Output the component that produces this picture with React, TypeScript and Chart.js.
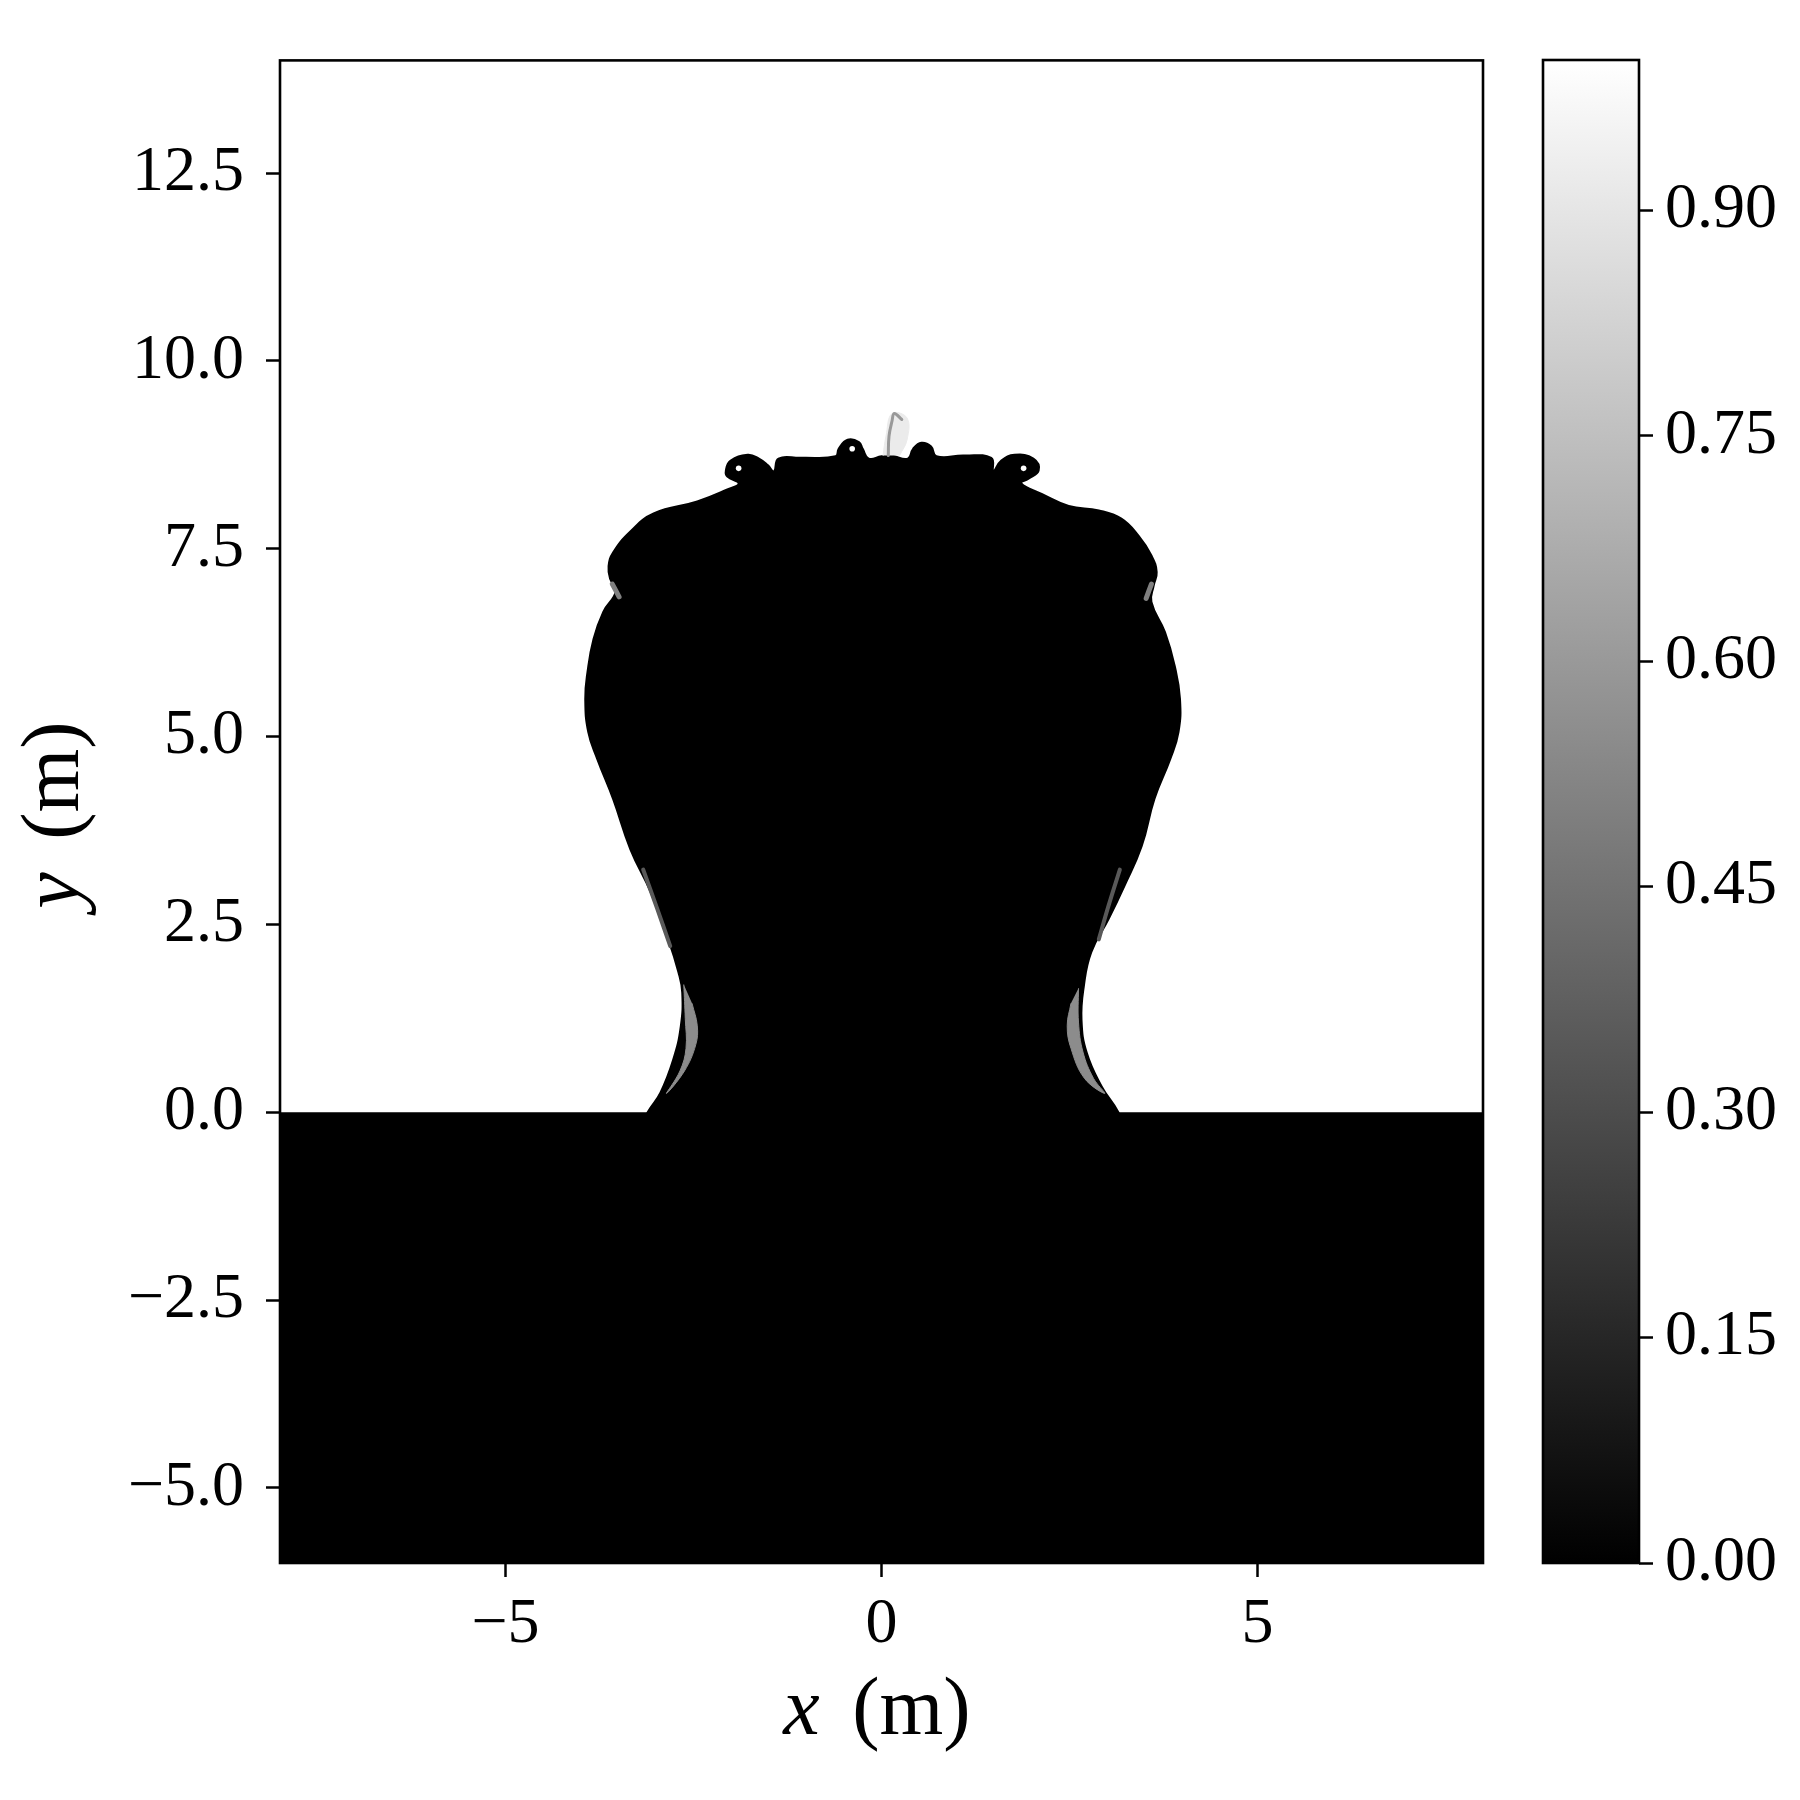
import React, { useEffect, useRef } from "react";
import { Chart, registerables } from "chart.js";

Chart.register(...registerables);

// ---- axes ----
const xLimits = [-8, 8];
const yLimits = [-6, 14];
const xTickValues = [-5, 0, 5];
const yTickValues = [-5, -2.5, 0, 2.5, 5, 7.5, 10, 12.5];
const cbarLimits = [0, 1];
const cbarTickValues = [0, 0.15, 0.3, 0.45, 0.6, 0.75, 0.9];

// ---- liquid pool (volume fraction 0) below the free surface ----
const poolX = [-8, -8, 8, 8];
const poolY = [0, -6, -6, 0];

// ---- bubble / column interface: right foot -> up -> crest -> down -> left foot, closed below y=0 ----
const bubbleX = [
  3.3, 3.15, 2.93, 2.73, 2.66, 2.69, 2.79, 3.02, 3.23, 3.46, 3.63, 3.84, 3.95, 3.97, 3.90,
  3.77, 3.59, 3.62, 3.66, 3.59, 3.42, 3.19, 2.89, 2.49, 2.13, 1.86,
  1.95, 2.09, 2.02, 1.77, 1.59, 1.49, 1.46,
  1.10, 0.73, 0.66, 0.53, 0.42, 0.35, 0.13, 0.0, -0.17,
  -0.25, -0.30, -0.45, -0.57, -0.61, -1.07, -1.37, -1.43,
  -1.51, -1.63, -1.78, -2.01, -2.07, -2.05, -1.90, -2.05,
  -2.45, -3.03, -3.34, -3.57, -3.63, -3.61, -3.53, -3.70, -3.83, -3.91, -3.94, -3.90,
  -3.78, -3.57, -3.34, -3.07, -2.85, -2.70, -2.65, -2.67, -2.77, -2.94, -3.11, -3.3,
];
const bubbleY = [
  -0.4, 0.0, 0.34, 0.79, 1.23, 1.67, 2.13, 2.57, 3.01, 3.54, 4.17, 4.70, 5.06, 5.50, 5.94,
  6.39, 6.79, 7.01, 7.19, 7.41, 7.67, 7.90, 8.01, 8.07, 8.23, 8.37,
  8.43, 8.54, 8.70, 8.75, 8.67, 8.54, 8.71,
  8.74, 8.73, 8.86, 8.91, 8.83, 8.70, 8.74, 8.73, 8.70,
  8.83, 8.92, 8.95, 8.83, 8.73, 8.71, 8.70, 8.53,
  8.61, 8.70, 8.75, 8.67, 8.54, 8.46, 8.37, 8.29,
  8.13, 7.97, 7.73, 7.45, 7.27, 7.10, 6.94, 6.66, 6.30, 5.86, 5.50, 5.06,
  4.70, 4.17, 3.50, 2.93, 2.34, 1.86, 1.59, 1.14, 0.70, 0.26, 0.0, -0.4,
];

// ---- partially mixed regions (volume fraction levels) ----
const leftCrescentX = [-2.63, -2.61, -2.60, -2.68, -2.86, -2.62, -2.47, -2.45, -2.52];
const leftCrescentY = [1.70, 1.25, 0.85, 0.55, 0.25, 0.55, 0.90, 1.15, 1.45];
const rightCrescentX = [2.62, 2.62, 2.68, 2.82, 2.97, 2.70, 2.52, 2.47, 2.52];
const rightCrescentY = [1.65, 1.20, 0.80, 0.45, 0.25, 0.45, 0.85, 1.15, 1.45];
const crescentLevel = 0.55;

const leftStreakX = [-3.17, -2.98, -2.81];
const leftStreakY = [3.23, 2.70, 2.21];
const rightStreakX = [3.17, 3.02, 2.89];
const rightStreakY = [3.23, 2.75, 2.30];
const streakLevel = 0.35;

const leftShoulderX = [-3.58, -3.49];
const leftShoulderY = [7.03, 6.86];
const rightShoulderX = [3.59, 3.52];
const rightShoulderY = [7.03, 6.84];
const shoulderLevel = 0.5;

const hazeX = [0.02, 0.06, 0.14, 0.34, 0.34, 0.24];
const hazeY = [8.74, 9.0, 9.3, 9.24, 8.95, 8.74];
const hazeLevel = 0.92;

const wispX = [0.09, 0.1, 0.14, 0.17, 0.27];
const wispY = [8.74, 9.0, 9.2, 9.3, 9.22];
const wispLevel = 0.6;

const curlEyeX = [-1.9, 1.89, -0.39];
const curlEyeY = [8.57, 8.57, 8.83];
const curlEyeLevel = 1.0;

// ---- helpers ----
const FONT = "'Liberation Serif', 'Times New Roman', serif";
const pts = (xs: number[], ys: number[]) => xs.map((x, i) => ({ x, y: ys[i] }));
const gray = (v: number) => {
  const c = Math.round(v * 255);
  return `rgb(${c},${c},${c})`;
};
const minus = (s: string) => s.replace("-", "\u2212");

const framePlugin = {
  id: "frame",
  afterDraw(chart: any) {
    const { ctx, chartArea: a } = chart;
    ctx.save();
    ctx.strokeStyle = "#000";
    ctx.lineWidth = 2.6;
    ctx.strokeRect(a.left, a.top, a.right - a.left, a.bottom - a.top);
    ctx.restore();
  },
};

const tickGrid = {
  display: true,
  drawOnChartArea: false,
  drawTicks: true,
  tickLength: 14,
  tickWidth: 2.5,
  tickColor: "#000",
};

function polyDataset(label: string, xs: number[], ys: number[], level: number, order: number, tension: number) {
  return {
    label,
    data: pts(xs, ys),
    showLine: true,
    fill: "shape",
    backgroundColor: gray(level),
    borderColor: gray(level),
    borderWidth: 1,
    pointRadius: 0,
    tension,
    order,
  };
}

function lineDataset(label: string, xs: number[], ys: number[], level: number, width: number, order: number) {
  return {
    label,
    data: pts(xs, ys),
    showLine: true,
    fill: false,
    borderColor: gray(level),
    borderWidth: width,
    pointRadius: 0,
    tension: 0.4,
    borderCapStyle: "round",
    order,
  };
}

export default function App() {
  const mainRef = useRef<HTMLCanvasElement | null>(null);
  const cbarRef = useRef<HTMLCanvasElement | null>(null);

  useEffect(() => {
    const main = new Chart(mainRef.current as HTMLCanvasElement, {
      type: "scatter",
      data: {
        datasets: [
          {
            label: "curl eyes",
            data: pts(curlEyeX, curlEyeY),
            pointRadius: 2.8,
            pointBackgroundColor: gray(curlEyeLevel),
            pointBorderWidth: 0,
            showLine: false,
            order: 0,
          },
          lineDataset("wisp", wispX, wispY, wispLevel, 3, 1),
          polyDataset("haze", hazeX, hazeY, hazeLevel, 2, 0.4),
          lineDataset("left streak", leftStreakX, leftStreakY, streakLevel, 4, 1),
          lineDataset("right streak", rightStreakX, rightStreakY, streakLevel, 4, 1),
          lineDataset("left shoulder", leftShoulderX, leftShoulderY, shoulderLevel, 5, 1),
          lineDataset("right shoulder", rightShoulderX, rightShoulderY, shoulderLevel, 5, 1),
          polyDataset("left crescent", leftCrescentX, leftCrescentY, crescentLevel, 3, 0.4),
          polyDataset("right crescent", rightCrescentX, rightCrescentY, crescentLevel, 3, 0.4),
          { ...polyDataset("bubble", bubbleX, bubbleY, 0, 9, 0.45), borderWidth: 2 },
          { ...polyDataset("pool", poolX, poolY, 0, 10, 0), borderWidth: 1 },
        ] as any,
      },
      options: {
        animation: false,
        responsive: false,
        devicePixelRatio: 1,
        events: [],
        layout: { padding: { top: 60, right: 17, left: 0, bottom: 0 } },
        plugins: { legend: { display: false }, tooltip: { enabled: false } },
        scales: {
          x: {
            type: "linear",
            min: xLimits[0],
            max: xLimits[1],
            afterBuildTicks: (s: any) => {
              s.ticks = xTickValues.map((v) => ({ value: v }));
            },
            afterFit: (s: any) => {
              s.height = 237;
            },
            grid: tickGrid,
            border: { display: false },
            ticks: {
              color: "#000",
              font: { family: FONT, size: 64 },
              padding: 10,
              maxRotation: 0,
              autoSkip: false,
              callback: (v: any) => minus(String(v)),
            },
          },
          y: {
            type: "linear",
            min: yLimits[0],
            max: yLimits[1],
            afterBuildTicks: (s: any) => {
              s.ticks = yTickValues.map((v) => ({ value: v }));
            },
            afterFit: (s: any) => {
              s.width = 280;
            },
            grid: tickGrid,
            border: { display: false },
            ticks: {
              color: "#000",
              font: { family: FONT, size: 64 },
              padding: 22,
              autoSkip: false,
              callback: (v: any) => minus(Number(v).toFixed(1)),
            },
          },
        },
      } as any,
      plugins: [framePlugin],
    });

    const cbar = new Chart(cbarRef.current as HTMLCanvasElement, {
      type: "bar",
      data: {
        labels: ["volume fraction"],
        datasets: [
          {
            label: "colorbar",
            data: [[cbarLimits[0], cbarLimits[1]]] as any,
            backgroundColor: (c: any) => {
              const chart = c.chart;
              if (!chart.chartArea) return "#888";
              const y = chart.scales.y;
              const g = chart.ctx.createLinearGradient(
                0,
                y.getPixelForValue(cbarLimits[0]),
                0,
                y.getPixelForValue(cbarLimits[1])
              );
              g.addColorStop(0, gray(cbarLimits[0]));
              g.addColorStop(1, gray(cbarLimits[1]));
              return g;
            },
            borderWidth: 0,
            barPercentage: 1,
            categoryPercentage: 1,
          },
        ],
      },
      options: {
        animation: false,
        responsive: false,
        devicePixelRatio: 1,
        events: [],
        layout: { padding: { top: 60, right: 0, left: 43, bottom: 237 } },
        plugins: { legend: { display: false }, tooltip: { enabled: false } },
        scales: {
          x: { display: false },
          y: {
            position: "right",
            min: cbarLimits[0],
            max: cbarLimits[1],
            afterBuildTicks: (s: any) => {
              s.ticks = cbarTickValues.map((v) => ({ value: v }));
            },
            afterFit: (s: any) => {
              s.width = 161;
            },
            grid: tickGrid,
            border: { display: false },
            ticks: {
              color: "#000",
              font: { family: FONT, size: 64 },
              padding: 12,
              autoSkip: false,
              callback: (v: any) => Number(v).toFixed(2),
            },
          },
        },
      } as any,
      plugins: [framePlugin],
    });

    return () => {
      main.destroy();
      cbar.destroy();
    };
  }, []);

  const labelStyle: React.CSSProperties = {
    position: "absolute",
    fontFamily: FONT,
    fontSize: 82,
    lineHeight: "82px",
    height: 82,
    width: 600,
    textAlign: "center",
    color: "#000",
    whiteSpace: "nowrap",
  };

  return (
    <div style={{ position: "absolute", left: 0, top: 0, width: 1800, height: 1800, background: "#fff", overflow: "hidden" }}>
      <canvas ref={mainRef} width={1500} height={1800} style={{ position: "absolute", left: 0, top: 0, width: 1500, height: 1800 }} />
      <canvas ref={cbarRef} width={300} height={1800} style={{ position: "absolute", left: 1500, top: 0, width: 300, height: 1800 }} />
      <div style={{ ...labelStyle, left: 877 - 300, top: 1707 - 41 }}>
        <span style={{ fontStyle: "italic", marginRight: 12 }}>x</span> (m)
      </div>
      <div style={{ ...labelStyle, left: 51 - 300, top: 815 - 41, transform: "rotate(-90deg)" }}>
        <span style={{ fontStyle: "italic", marginRight: 12 }}>y</span> (m)
      </div>
    </div>
  );
}
